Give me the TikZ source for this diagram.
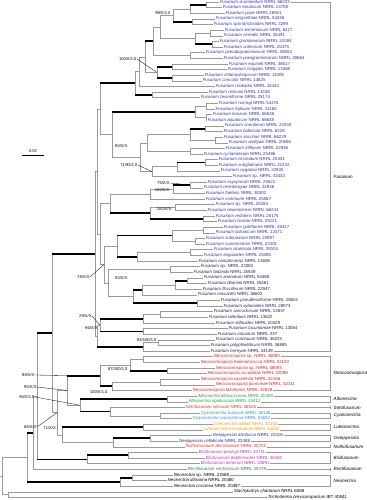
\documentclass[tikz,border=0pt]{standalone}
\usepackage{fontspec}
\setmainfont{Liberation Sans}
\usetikzlibrary{calc}
\definecolor{fus}{HTML}{3535A5}
\definecolor{fdk}{HTML}{23234E}
\definecolor{neo}{HTML}{D42020}
\definecolor{alb}{HTML}{1E9E3E}
\definecolor{set}{HTML}{E0301A}
\definecolor{cya}{HTML}{2E8FD8}
\definecolor{lut}{HTML}{F09A10}
\definecolor{gee}{HTML}{2A2A8C}
\definecolor{nof}{HTML}{E82828}
\definecolor{bis}{HTML}{C030B0}
\definecolor{rec}{HTML}{2E7A3A}
\definecolor{brg}{HTML}{9A9A9A}
\tikzset{
 lf/.style={anchor=west, inner xsep=0.6bp, inner ysep=0pt, text height=3.1bp, text depth=0.9bp, font=\fontsize{4.4}{5}\selectfont},
 vl/.style={draw=brg, line width=0.45bp},
 tn/.style={draw=brg, line width=0.45bp},
 tk/.style={draw=black, line width=1.7bp},
 sv/.style={font=\fontsize{4.1}{4.5}\selectfont, inner sep=0.3bp},
 ld/.style={draw=black, line width=0.3bp},
 gn/.style={anchor=west, font=\fontsize{4.6}{5}\selectfont\itshape, inner sep=0.5bp},
 bk/.style={draw=brg, line width=0.45bp},
}
% leaf: number, x, y, colour, text
\newcommand\tleaf[5]{\node[lf,text=#4] (L#1) at (#2,#3) {#5};}
% join: name, x, child1, child2, style1, style2
\newcommand\tjn[6]{%
 \coordinate (#1m) at ($(#3)!0.5!(#4)$);
 \coordinate (#1x) at (#2,0);
 \coordinate (#1) at (#1x |- #1m);
 \draw[vl] (#1 |- #3) -- (#1 |- #4);
 \draw[#5] (#1 |- #3) -- (#3);
 \draw[#6] (#1 |- #4) -- (#4);}
\newcommand\tbrk[2]{\draw[bk] (#1.east) -- (#1.east -| bx) -- (#2.east -| bx) -- (#2.east);}
\newcommand\tone[1]{\draw[bk] (#1.east) -- (#1.east -| bx);
 \draw[bk] ($(#1.east -| bx)+(0,-1.6)$) -- ($(#1.east -| bx)+(0,1.6)$);}
\newcommand\fu[2]{\textit{Fusarium #1} NRRL #2}
\begin{document}
\begin{tikzpicture}[x=1bp,y=-1bp]
\useasboundingbox (0,0) rectangle (366,500);
\coordinate (bx) at (330,0);
\coordinate (orig) at (0,0);
% ---------- leaves ----------
\tleaf{1}{219}{2.00}{fus}{\fu{acuminatum}{66233}}
\tleaf{2}{222}{7.63}{fus}{\fu{torulosum}{13708}}
\tleaf{3}{225}{13.26}{fus}{\fu{poae}{26941}}
\tleaf{4}{215}{18.89}{fus}{\fu{langsethiae}{53436}}
\tleaf{5}{213}{24.52}{fus}{\fu{sporotrichioides}{3299}}
\tleaf{6}{224}{30.15}{fus}{\fu{armeniacum}{6227}}
\tleaf{7}{223}{35.78}{fus}{\fu{cerealis}{25491}}
\tleaf{8}{219}{41.41}{fus}{\fu{graminearum}{31084}}
\tleaf{9}{223}{47.04}{fus}{\fu{culmorum}{25475}}
\tleaf{10}{205}{52.67}{fus}{\fu{pseudograminearum}{28062}}
\tleaf{11}{223}{58.30}{fus}{\fu{praegraminearum}{39664}}
\tleaf{12}{228}{63.93}{fus}{\fu{equiseti}{36517}}
\tleaf{13}{227}{69.56}{fus}{\fu{longipes}{13368}}
\tleaf{14}{204}{75.19}{fus}{\fu{chlamydosporum}{11008}}
\tleaf{15}{202}{80.82}{fus}{\fu{concolor}{13625}}
\tleaf{16}{215}{86.45}{fus}{\fu{nisikadoi}{43444}}
\tleaf{17}{208}{92.08}{fus}{\fu{nelsonii}{13338}}
\tleaf{18}{200}{97.71}{fus}{\fu{beomiforme}{25174}}
\tleaf{19}{218}{103.34}{fus}{\fu{nurragi}{54476}}
\tleaf{20}{215}{108.97}{fus}{\fu{fujikuroi}{31160}}
\tleaf{21}{212}{114.60}{fus}{\fu{konzum}{66636}}
\tleaf{22}{207}{120.23}{fus}{\fu{aquaticum}{66638}}
\tleaf{23}{224}{125.86}{fus}{\fu{coeruleum}{20330}}
\tleaf{24}{223}{131.49}{fus}{\fu{bulbicola}{6228}}
\tleaf{25}{223}{137.12}{fus}{\fu{sacchari}{66229}}
\tleaf{26}{228}{142.75}{fus}{\fu{andiyazi}{20696}}
\tleaf{27}{225}{148.38}{fus}{\fu{inflexum}{22946}}
\tleaf{28}{203}{154.01}{fus}{\fu{cyclamineum}{25486}}
\tleaf{29}{218}{159.64}{fus}{\fu{circinatum}{25331}}
\tleaf{30}{218}{165.27}{fus}{\fu{subglutinans}{22332}}
\tleaf{31}{220}{170.90}{fus}{\fu{nygamai}{22945}}
\tleaf{32}{232}{176.53}{fus}{\textit{Fusarium} sp. NRRL 43433}
\tleaf{33}{207}{182.16}{fus}{\fu{oxysporum}{25521}}
\tleaf{34}{203}{187.79}{fus}{\fu{nirenbergiae}{34936}}
\tleaf{35}{205}{193.42}{fus}{\fu{foetens}{38302}}
\tleaf{36}{205}{199.05}{fus}{\fu{commune}{25567}}
\tleaf{37}{215}{204.68}{fus}{\textit{Fusarium} sp. NRRL 25184}
\tleaf{38}{207}{210.31}{fus}{\fu{newnesense}{66241}}
\tleaf{39}{215}{215.94}{fus}{\fu{redolens}{25175}}
\tleaf{40}{217}{221.57}{fus}{\fu{hostae}{25221}}
\tleaf{41}{223}{227.20}{fus}{\fu{guttiforme}{45417}}
\tleaf{42}{215}{232.83}{fus}{\fu{buharicum}{13371}}
\tleaf{43}{205}{238.46}{fus}{\fu{sublunatum}{20897}}
\tleaf{44}{205}{244.09}{fus}{\fu{cuneirostrum}{22201}}
\tleaf{45}{213}{249.72}{fus}{\fu{azukicola}{28104}}
\tleaf{46}{203}{255.35}{fus}{\fu{anguioides}{25385}}
\tleaf{47}{198}{260.98}{fdk}{\fu{camptoceras}{13608}}
\tleaf{48}{200}{266.61}{fdk}{\textit{Fusarium} sp. NRRL 22000}
\tleaf{49}{193}{272.24}{fdk}{\fu{babinda}{25539}}
\tleaf{50}{203}{277.87}{fdk}{\fu{ananatum}{54488}}
\tleaf{51}{207}{283.50}{fdk}{\fu{dlaminii}{25461}}
\tleaf{52}{202}{289.13}{fdk}{\fu{flocciferum}{22947}}
\tleaf{53}{197}{294.76}{fdk}{\fu{miscanthi}{36602}}
\tleaf{54}{220}{300.39}{fdk}{\fu{pseudensiforme}{28602}}
\tleaf{55}{223}{306.02}{fdk}{\fu{xylarioides}{28073}}
\tleaf{56}{213}{311.65}{fdk}{\fu{sarcochroum}{13537}}
\tleaf{57}{208}{317.28}{fdk}{\fu{lateritium}{13622}}
\tleaf{58}{215}{322.91}{fdk}{\fu{stilboides}{20429}}
\tleaf{59}{228}{328.54}{fdk}{\fu{tucumaniae}{13064}}
\tleaf{60}{217}{334.17}{fdk}{\fu{robustum}{337}}
\tleaf{61}{215}{339.80}{fdk}{\fu{continuum}{36233}}
\tleaf{62}{210}{345.43}{fdk}{\fu{polyphialidicum}{36855}}
\tleaf{63}{210}{351.06}{fdk}{\fu{torreyae}{34149}}
\tleaf{64}{213}{356.69}{neo}{\textit{Neocosmospora} sp. NRRL 45880}
\tleaf{65}{200}{362.32}{neo}{\textit{Neocosmospora haematococca} NRRL 22153}
\tleaf{66}{215}{367.95}{neo}{\textit{Neocosmospora} sp. NRRL 46593}
\tleaf{67}{207}{373.58}{neo}{\textit{Neocosmospora cucurbitae} NRRL 22098}
\tleaf{68}{200}{379.21}{neo}{\textit{Neocosmospora vasinfecta} NRRL 22166}
\tleaf{69}{215}{384.84}{neo}{\textit{Neocosmospora ipomoeae} NRRL 31041}
\tleaf{70}{192}{390.47}{neo}{\textit{Neocosmospora falciformis} NRRL 32828}
\tleaf{71}{197}{396.10}{alb}{\textit{Albonectria albosuccinea} NRRL 20459}
\tleaf{72}{188}{401.73}{alb}{\textit{Albonectria rigidiuscula} NRRL 13412}
\tleaf{73}{185}{407.36}{set}{\textit{Setofusarium setosum} NRRL 36526}
\tleaf{74}{200}{412.99}{cya}{\textit{Cyanonectria buxicola} NRRL 36148}
\tleaf{75}{192}{418.62}{cya}{\textit{Cyanonectria cyanostoma} NRRL 53692}
\tleaf{76}{213}{424.25}{lut}{\textit{Luteonectria albida} NRRL 22152}
\tleaf{77}{203}{429.88}{lut}{\textit{Luteonectria nematophila} NRRL 54600}
\tleaf{78}{212}{435.51}{gee}{\textit{Geejayessia atrofusca} NRRL 22316}
\tleaf{79}{178}{441.14}{gee}{\textit{Geejayessia celtidicola} NRRL 22488}
\tleaf{80}{185}{446.77}{nof}{\textit{Nothofusarium devonianum} NRRL 20702}
\tleaf{81}{198}{452.40}{bis}{\textit{Bisifusarium penzigii} NRRL 20711}
\tleaf{82}{205}{458.03}{bis}{\textit{Bisifusarium delphinoides} NRRL 36160}
\tleaf{83}{200}{463.66}{bis}{\textit{Bisifusarium dimerum} NRRL 20691}
\tleaf{84}{187}{469.29}{rec}{\textit{Rectifusarium ventricosum} NRRL 25729}
\tleaf{85}{173}{474.92}{black}{\textit{Neonectria} sp. NRRL 22568}
\tleaf{86}{167}{480.55}{black}{\textit{Neonectria ditissima} NRRL 20480}
\tleaf{87}{173}{486.18}{black}{\textit{Neonectria coccinea} NRRL 20487}
\tleaf{88}{233}{491.81}{black}{\textit{Stachybotrys chartarum} NRRL 6088}
\tleaf{89}{267}{497.44}{black}{\textit{Trichoderma brevicompactum} IBT 40841}
% ---------- tree ----------
\tjn{a1}{206}{L1}{L2}{tn}{tn}
\tjn{a2}{190}{a1}{L3}{tk}{tn}
\tjn{a3}{192}{L4}{L5}{tn}{tn}
\tjn{a4}{173}{a2}{a3}{tn}{tk}
\tjn{a5}{210}{L6}{L7}{tn}{tn}
\tjn{a6}{212}{L8}{L9}{tn}{tn}
\tjn{a7}{195}{a5}{a6}{tn}{tk}
\tjn{a8}{160}{a4}{a7}{tn}{tn}
\tjn{a9}{190}{L10}{L11}{tn}{tn}
\tjn{a10}{153}{a8}{a9}{tn}{tn}
\tjn{a11}{172}{L12}{L13}{tn}{tn}
\tjn{a12}{172}{L14}{L15}{tn}{tn}
\tjn{a13}{157}{a11}{a12}{tk}{tk}
\tjn{a14}{145}{a10}{a13}{tk}{tn}
\tjn{a15}{139}{a14}{L16}{tn}{tn}
\tjn{a16}{152}{L17}{L18}{tn}{tn}
\tjn{a17}{135}{a15}{a16}{tn}{tk}
\tjn{b1}{206}{L19}{L20}{tn}{tn}
\tjn{b2}{206}{L21}{L22}{tn}{tn}
\tjn{b3}{195}{b1}{b2}{tn}{tn}
\tjn{c1}{205}{L23}{L24}{tn}{tn}
\tjn{c2}{215}{L25}{L26}{tn}{tn}
\tjn{c3}{190}{c1}{c2}{tk}{tn}
\tjn{c4}{190}{L27}{L28}{tn}{tn}
\tjn{c5}{147}{c3}{c4}{tn}{tn}
\tjn{c6}{205}{L29}{L30}{tn}{tn}
\tjn{c7}{177}{c6}{L31}{tk}{tn}
\tjn{c8}{152}{c7}{L32}{tn}{tn}
\tjn{c9}{140}{c5}{c8}{tn}{tn}
\tjn{Ub}{112}{b3}{c9}{tk}{tn}
\tjn{U1}{100}{a17}{Ub}{tk}{tn}
\tjn{d1}{190}{L33}{L34}{tn}{tn}
\tjn{d2}{173}{d1}{L35}{tk}{tn}
\tjn{d3}{150}{d2}{L36}{tn}{tn}
\tjn{d4}{175}{L37}{L38}{tn}{tn}
\tjn{d5}{203}{L39}{L40}{tn}{tn}
\tjn{d6}{150}{d4}{d5}{tn}{tk}
\tjn{d7}{110}{d3}{d6}{tn}{tk}
\tjn{e1}{203}{L41}{L42}{tn}{tn}
\tjn{e2}{195}{L43}{L44}{tn}{tn}
\tjn{e3}{172}{e1}{e2}{tn}{tn}
\tjn{e4}{190}{L45}{L46}{tn}{tn}
\tjn{e5}{137}{e4}{L47}{tn}{tn}
\tjn{e6}{117}{e3}{e5}{tk}{tk}
\tjn{f1}{170}{L48}{L49}{tn}{tn}
\tjn{f2}{187}{L50}{L51}{tn}{tn}
\tjn{f3}{175}{f2}{L52}{tk}{tn}
\tjn{f4}{142}{f3}{L53}{tn}{tn}
\tjn{f5}{197}{L54}{L55}{tn}{tn}
\tjn{f6}{133}{f4}{f5}{tk}{tk}
\tjn{f7}{108}{f1}{f6}{tn}{tn}
\tjn{U2a}{104}{e6}{f7}{tn}{tn}
\tjn{U2}{100}{d7}{U2a}{tn}{tn}
\tjn{U}{97}{U1}{U2}{tn}{tn}
\tjn{g1}{160}{L56}{L57}{tn}{tn}
\tjn{g2}{143}{g1}{L58}{tn}{tn}
\tjn{g3}{143}{L59}{L60}{tn}{tn}
\tjn{g4}{100}{g2}{g3}{tk}{tk}
\tjn{g5}{158}{L61}{L62}{tn}{tn}
\tjn{g6}{143}{g5}{L63}{tn}{tn}
\tjn{g7}{97}{g4}{g6}{tn}{tk}
\tjn{P}{95}{U}{g7}{tn}{tn}
\tjn{n1}{143}{L64}{L65}{tn}{tn}
\tjn{n2}{167}{L66}{L67}{tn}{tn}
\tjn{n3}{130}{n1}{n2}{tn}{tk}
\tjn{n4}{160}{L68}{L69}{tn}{tn}
\tjn{n5}{112}{n4}{L70}{tn}{tn}
\tjn{n6}{100}{n3}{n5}{tn}{tk}
\tjn{al}{167}{L71}{L72}{tn}{tn}
\tjn{cy}{160}{L74}{L75}{tn}{tn}
\tjn{sc}{110}{L73}{cy}{tn}{tn}
\tjn{k80}{80}{al}{sc}{tk}{tk}
\tjn{k67}{67}{n6}{k80}{tk}{tn}
\tjn{lu}{143}{L76}{L77}{tn}{tn}
\tjn{ge}{150}{L78}{L79}{tn}{tn}
\tjn{ge2}{113}{ge}{L80}{tk}{tn}
\tjn{k62}{62}{lu}{ge2}{tk}{tn}
\tjn{kr}{57}{k67}{k62}{tn}{tn}
\tjn{n52}{52}{P}{kr}{tk}{tn}
\tjn{bb}{128}{L81}{L82}{tn}{tn}
\tjn{bi}{87}{bb}{L83}{tk}{tn}
\tjn{x37}{37}{n52}{bi}{tk}{tk}
\tjn{m}{33}{x37}{L84}{tn}{tn}
\tjn{na}{132}{L85}{L86}{tn}{tn}
\tjn{nn}{120}{na}{L87}{tk}{tn}
\tjn{nin}{27}{m}{nn}{tk}{tk}
\tjn{o}{8}{L88}{L89}{tn}{tn}
\tjn{r}{2}{nin}{o}{tn}{tn}
\draw[tn] (r) -- (r -| orig);
% ---------- brackets and genus names ----------
\tbrk{L1}{L63}
\tbrk{L64}{L70}
\tbrk{L71}{L72}
\tone{L73}
\tbrk{L74}{L75}
\tbrk{L76}{L77}
\tbrk{L78}{L79}
\tone{L80}
\tbrk{L81}{L83}
\tone{L84}
\tbrk{L85}{L87}
\node[gn] (G1) at (333,176.5) {Fusarium};
\node[gn] (G2) at (333,373.6) {Neocosmospora};
\node[gn] (G3) at (333,398.9) {Albonectria};
\node[gn] (G4) at (333,407.4) {Setofusarium};
\node[gn] (G5) at (333,415.8) {Cyanonectria};
\node[gn] (G6) at (333,427.1) {Luteonectria};
\node[gn] (G7) at (333,438.3) {Geejayessia};
\node[gn] (G8) at (333,446.8) {Nothofusarium};
\node[gn] (G9) at (333,458.0) {Bisifusarium};
\node[gn] (G10) at (333,469.3) {Rectifusarium};
\node[gn] (G11) at (333,480.6) {Neonectria};
% ---------- support values ----------
\node[sv,anchor=east] (s1) at (171,13) {99/X/1.0};
\node[sv,anchor=east] (s2) at (137,59) {100/X/1.0};
\draw[ld] (s2.east) -- (a13);
\node[sv,anchor=east] (s3) at (128,146) {90/X/X};
\node[sv,anchor=east] (s4) at (138,165) {71/93/1.0};
\draw[ld] (s4.east) -- (c8);
\node[sv,anchor=east] (s5) at (170,183) {75/X/X};
\draw[ld] (s5.east) -- (d1);
\node[sv,anchor=east] (s6) at (170,190) {100/X/X};
\node[sv,anchor=east] (s7) at (172,209) {100/X/X};
\node[sv,anchor=east] (s8) at (128,278) {55/X/X};
\node[sv,anchor=east] (s9) at (90,277) {78/X/X};
\draw[ld] (s9.east) -- (U2a);
\node[sv,anchor=east] (s10) at (92,316) {29/X/X};
\draw[ld] (s10.east) -- (g4);
\node[sv,anchor=east] (s11) at (98,328) {96/X/X};
\node[sv,anchor=east] (s12) at (157,340) {93/100/1.0};
\node[sv,anchor=east] (s13) at (128,369) {87/100/1.0};
\node[sv,anchor=east] (s14) at (108,392) {100/X/1.0};
\coordinate (nb) at (72,375.65);
\node[sv,anchor=east] (s15) at (35,375) {98/X/X};
\draw[ld] (s15.east) -- (nb);
\node[sv,anchor=east] (s16) at (37,387) {95/X/X};
\draw[ld] (s16.east) -- (k67);
\node[sv,anchor=east] (s17) at (35,397) {94/X/1.0};
\draw[ld] (s17.east) -- (k80);
\node[sv,anchor=east] (s18) at (37,427) {86/X/X};
\draw[ld] (s18.east) -- (kr);
\node[sv,anchor=west] (s19) at (43,428) {71/X/X};
% ---------- scale bar ----------
\draw[draw=black, line width=0.4bp] (22,155) -- (44,155);
\node[sv] (sc1) at (33,151) {0.02};
\end{tikzpicture}
\end{document}
